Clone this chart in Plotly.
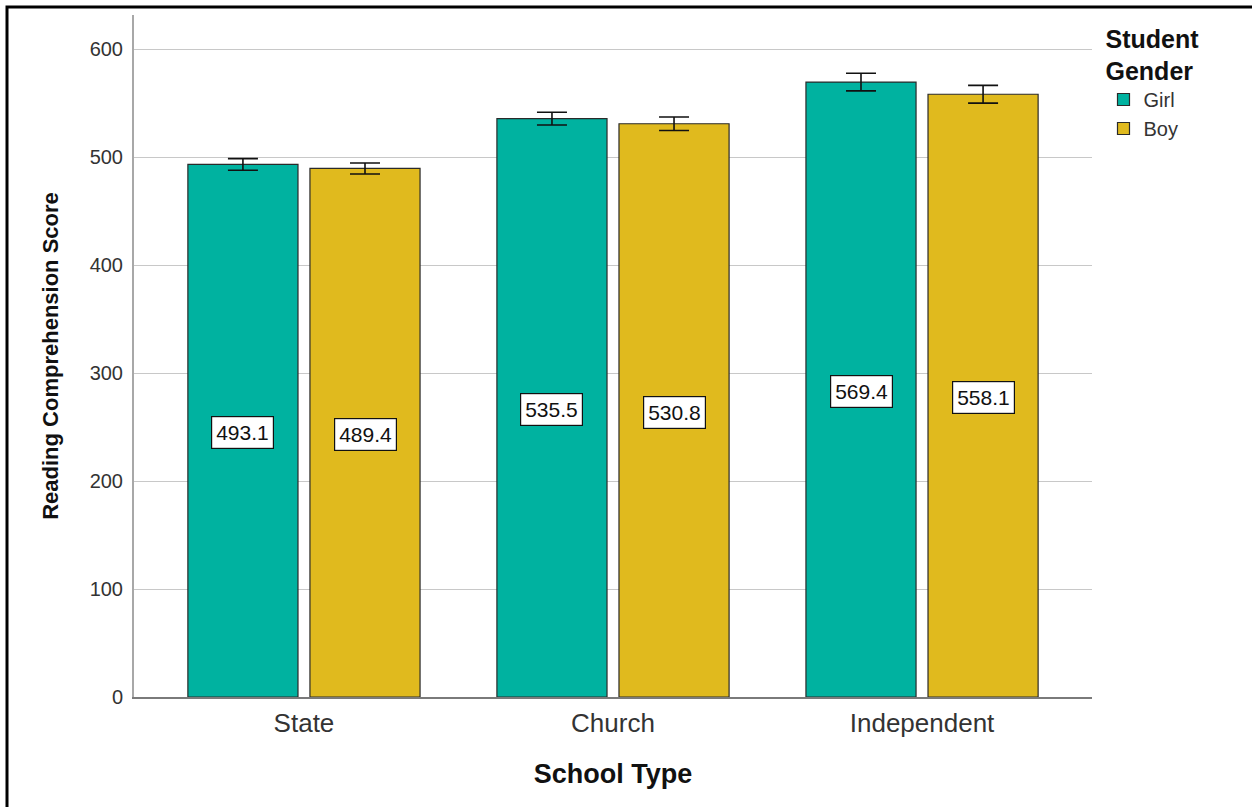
import plotly.graph_objects as go

categories = ["State", "Church", "Independent"]
girl_means = [493.1, 535.5, 569.4]
boy_means = [489.4, 530.8, 558.1]
girl_err = [5.4, 5.9, 8.2]
boy_err = [5.1, 6.3, 8.2]
y_ticks = [0, 100, 200, 300, 400, 500, 600]

TEAL = "#00B2A0"
GOLD = "#E0BA1E"
BARGAP = 0.21
BARGROUPGAP = 0.098

fig = go.Figure()
for name, vals, errs, col in [("Girl", girl_means, girl_err, TEAL),
                              ("Boy", boy_means, boy_err, GOLD)]:
    fig.add_trace(go.Bar(
        x=categories, y=vals, name=name,
        marker=dict(color=col, line=dict(color="#2a2a2a", width=1.2)),
        error_y=dict(type="data", array=errs, visible=True,
                     color="#111111", thickness=1.6, width=15),
    ))

slot = (1 - BARGAP) / 2
annotations = []
for i, cat in enumerate(categories):
    for vals, off in [(girl_means, -slot / 2), (boy_means, slot / 2)]:
        annotations.append(dict(
            x=i + off, y=vals[i] / 2, xref="x", yref="y",
            text=f"{vals[i]:.1f}", showarrow=False,
            font=dict(family="Arial", size=21, color="#111111"),
            bgcolor="white", bordercolor="#111111", borderwidth=1.2,
            borderpad=4, yshift=-2,
        ))

fig.update_layout(
    width=1252, height=807,
    paper_bgcolor="white", plot_bgcolor="white",
    margin=dict(l=134, r=160, t=15, b=110),
    barmode="group", bargap=BARGAP, bargroupgap=BARGROUPGAP,
    font=dict(family="Arial", color="#333333"),
    showlegend=True,
    legend=dict(
        title=dict(text="<b>Student<br>Gender</b>",
                   font=dict(family="Arial", size=25, color="#111111"),
                   side="top"),
        font=dict(family="Arial", size=20, color="#333333"),
        x=1.012, y=1.0, xanchor="left", yanchor="top",
        bgcolor="rgba(0,0,0,0)", tracegroupgap=0,
    ),
    xaxis=dict(
        range=[-0.55, 2.55], showline=True, linecolor="#7a7a7a", linewidth=2,
        showgrid=False, tickfont=dict(size=26, color="#333333"),
        ticks="", ticklabelstandoff=2,
        title=dict(text="<b>School Type</b>",
                   font=dict(size=27, color="#111111"), standoff=27),
    ),
    yaxis=dict(
        range=[0, 631.5], tickvals=y_ticks, showline=True,
        linecolor="#a8a8a8", linewidth=2, showgrid=True,
        gridcolor="#c8c8c8", gridwidth=1, zeroline=False,
        tickfont=dict(size=20, color="#333333"), ticks="",
        ticklabelstandoff=5,
        title=dict(text="<b>Reading Comprehension Score</b>",
                   font=dict(size=22, color="#111111"), standoff=25),
    ),
    annotations=annotations,
    shapes=[dict(type="rect", xref="paper", yref="paper",
                 x0=(7 - 134) / 958, x1=(1260 - 134) / 958,
                 y0=(697 - 815) / 682, y1=(697 - 7) / 682,
                 line=dict(color="black", width=3), fillcolor="rgba(0,0,0,0)",
                 layer="above")],
)

fig.write_html("out.html", config={"displayModeBar": False})

# remove the default page margin so the figure sits at the window origin
with open("out.html", "r", encoding="utf-8") as f:
    html = f.read()
html = html.replace("<head>", "<head><style>html,body{margin:0;padding:0;overflow:hidden;}</style>", 1)
with open("out.html", "w", encoding="utf-8") as f:
    f.write(html)
